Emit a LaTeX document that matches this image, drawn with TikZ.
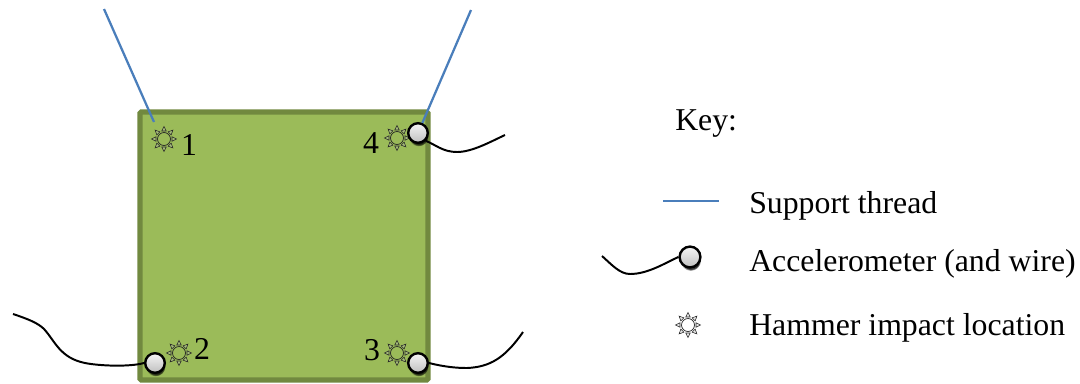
\documentclass[tikz,border=0pt]{standalone}
\usepackage{fontspec}
\setmainfont{Liberation Serif}
\usetikzlibrary{positioning, shadows, fadings}

\begin{document}
\begin{tikzpicture}[
    x=0.025cm, y=-0.025cm,
    plate/.style={rectangle, draw=plateedge, fill=platefill, line width=3.8pt, rounded corners=1pt, inner sep=0pt, minimum width=7.2cm, minimum height=6.7cm},
    thread/.style={draw=threadblue, line width=1.6pt},
    wire/.style={draw=black, line width=1.4pt},
    sensor/.style={circle, draw=black, line width=1.7pt, top color=white!92!gray, bottom color=black!25, inner sep=0pt, minimum size=0.49cm, general shadow={fill=black, opacity=0.8, path fading=circle with fuzzy edge 20 percent, scale=1.75, shadow xshift=0.5pt, shadow yshift=-2.5pt}},
    label/.style={font=\fontsize{22.6}{26}\selectfont, inner sep=0pt},
    keytext/.style={label, anchor=base west},
    hammer/.pic={
        \draw[line width=0.5pt, draw=black!85] (0,0) circle (6.5);
        \foreach \ang in {0,45,...,315}
            \draw[line width=0.4pt, draw=black!85, fill=black!25, fill opacity=0.35, rotate=\ang] (8,-2.2) -- (12.5,0) -- (8,2.2) -- cycle;
    }
]
    \definecolor{platefill}{HTML}{9BBB59}
    \definecolor{plateedge}{HTML}{71893F}
    \definecolor{threadblue}{HTML}{4A7EBB}

    \useasboundingbox (0,0) rectangle (1080,383);

    \node[plate] (P) at (284,246) {};

    % thread ends
    \coordinate (T1a) at (104,9);
    \coordinate (T1b) at (154,122);
    \coordinate (T4a) at (471,10);
    \coordinate (W2) at (13,314);
    \coordinate (W3) at (523,332);
    \coordinate (W4) at (505,135);
    \coordinate (WK) at (602,256);
    \coordinate (Ka) at (663,201);
    \coordinate (Kb) at (719,201);

    \pic at (164,139) {hammer};
    \pic at (179,353) {hammer};
    \pic at (397,353) {hammer};
    \pic at (397,138) {hammer};
    \pic at (688,325) {hammer};

    \node[label] (N1) at (189,145) {1};
    \node[label] (N2) at (202,349) {2};
    \node[label] (N3) at (372,350) {3};
    \node[label] (N4) at (371,143) {4};

    \node[sensor] (S2) at (155,363) {};
    \node[sensor] (S3) at (418,363) {};
    \node[sensor] (S4) at (418,133) {};
    \node[sensor, minimum size=0.52cm] (SK) at (690,257) {};

    \draw[thread] (T1a) -- (T1b);
    \draw[thread] (T4a) -- (S4);
    \draw[thread, line width=2.1pt] (Ka) -- (Kb);

    \draw[wire] (W2) .. controls (28,319) and (38,323) .. (44,329) .. controls (55,341) and (60,358) .. (85,363) .. controls (100,366) and (130,367) .. (S2.west);
    \draw[wire] (S3.east) .. controls (445,367) and (457,368) .. (467,368) .. controls (490,367) and (505,358) .. (W3);
    \draw[wire] (S4.south east) .. controls (436,145) and (443,152) .. (457,152) .. controls (472,152) and (490,142) .. (W4);
    \draw[wire] (WK) .. controls (612,265) and (620,274) .. (630,274) .. controls (648,274) and (665,263) .. (SK.west);

    \node[keytext] (Kt) at (675,130) {Key:};
    \node[keytext] (Kt1) at (749,213) {Support thread};
    \node[keytext] (Kt2) at (749,271) {Accelerometer (and wire)};
    \node[keytext] (Kt3) at (749,335) {Hammer impact location};
\end{tikzpicture}
\end{document}
